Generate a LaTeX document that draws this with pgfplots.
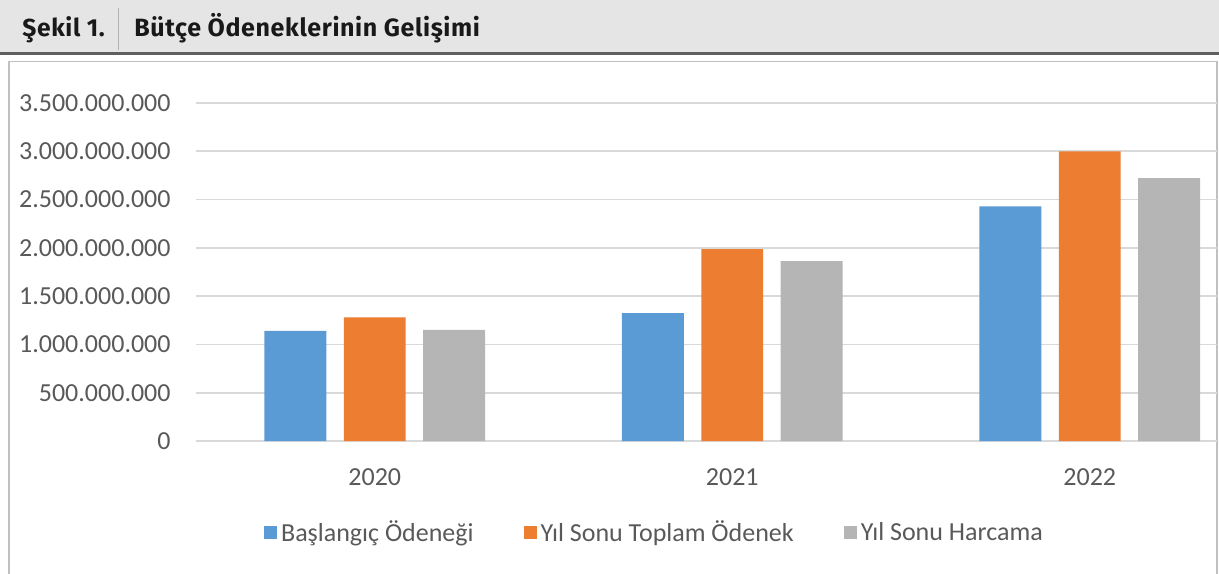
\documentclass[border=0pt]{standalone}
\usepackage{pgfplots}
\pgfplotsset{compat=1.18}
\usepackage{fontspec}
\setmainfont{Carlito}
\newfontfamily\headfont[LetterSpace=2.5]{Fira Sans}
\definecolor{cblue}{HTML}{5B9BD5}
\definecolor{corange}{HTML}{ED7D31}
\definecolor{cgray}{HTML}{B4B5B4}
\definecolor{ctext}{HTML}{595959}
\definecolor{cgrid}{HTML}{D9D9D9}
\definecolor{headbg}{HTML}{E5E5E5}
\definecolor{headline}{HTML}{5F5F5F}
\definecolor{boxline}{HTML}{C0C0C0}

\begin{document}
\begin{tikzpicture}
% page frame, 1 px of the reference = 0.5pt
\begin{scope}[x=0.5pt,y=-0.5pt]
  \useasboundingbox (0,0) rectangle (1219,573);
  \fill[headbg] (0,0) rectangle (1219,52);
  \draw[headline, line width=1.3pt] (0,53.5) -- (1219,53.5);
  \draw[black!30, line width=0.5pt] (118,8) -- (118,50);
  \node[anchor=base west, inner sep=0pt, font=\headfont\bfseries\fontsize{12.3}{15}\selectfont, text=black!90]
    at (22,36) {Şekil 1.};
  \node[anchor=base west, inner sep=0pt, font=\headfont\bfseries\fontsize{12.5}{15}\selectfont, text=black!90]
    at (134,36) {Bütçe Ödeneklerinin Gelişimi};
  \draw[boxline, line width=0.6pt] (9,600) -- (9,61.5) -- (1217,61.5) -- (1217,600);
\end{scope}

\begin{axis}[
  at={(98pt,-220.5pt)}, anchor=south west,
  scale only axis, width=510.5pt, height=169pt,
  xmin=-0.5, xmax=2.356,
  ymin=0, ymax=3500000000,
  scaled y ticks=false,
  ybar, bar width=0.173,
  axis x line*=bottom, axis y line*=left,
  x axis line style={cgrid, line width=0.8pt, -},
  y axis line style={draw=none},
  ymajorgrids, grid style={cgrid, line width=0.8pt},
  major tick length=0pt,
  xtick={0,1,2}, xticklabels={2020,2021,2022},
  ytick={0,500000000,1000000000,1500000000,2000000000,2500000000,3000000000,3500000000},
  yticklabels={0,500.000.000,1.000.000.000,1.500.000.000,2.000.000.000,2.500.000.000,3.000.000.000,3.500.000.000},
  tick label style={font=\fontsize{13}{15}\selectfont, text=ctext},
  yticklabel style={inner sep=0pt, anchor=east, xshift=-12.5pt},
  xticklabel style={inner sep=0pt, anchor=north, yshift=-13.5pt},
  legend style={at={(0.45,-0.272)}, anchor=center, draw=none, fill=none,
    font=\fontsize{13}{15}\selectfont, text=ctext,
    /tikz/every even column/.append style={column sep=23pt}},
  legend columns=3,
  legend image code/.code={\fill[#1] (0pt,-3.25pt) rectangle (6.5pt,3.25pt);},
]
\addplot[fill=cblue, draw=none, bar shift=-0.222] coordinates {
  (0,1140000000) (1,1325000000) (2,2430000000)};
\addplot[fill=corange, draw=none, bar shift=0] coordinates {
  (0,1281000000) (1,1988000000) (2,2998000000)};
\addplot[fill=cgray, draw=none, bar shift=0.222] coordinates {
  (0,1150000000) (1,1864000000) (2,2723000000)};
\legend{Başlangıç Ödeneği, Yıl Sonu Toplam Ödenek, Yıl Sonu Harcama}
\end{axis}
\end{tikzpicture}
\end{document}
